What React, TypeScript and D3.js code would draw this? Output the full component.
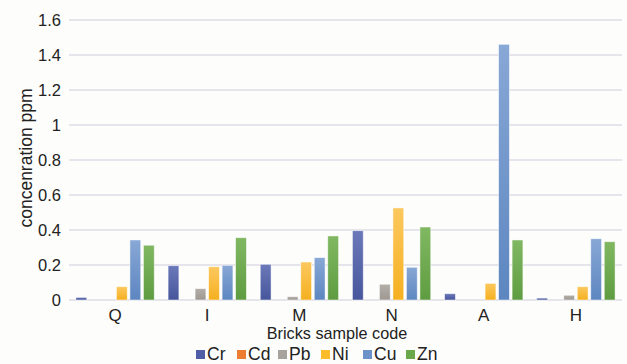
import React from "react";
import * as d3 from "d3";

const categories = ["Q", "I", "M", "N", "A", "H"];
const seriesNames = ["Cr", "Cd", "Pb", "Ni", "Cu", "Zn"];
const Cr = [0.015, 0.196, 0.204, 0.396, 0.036, 0.011];
const Cd = [0, 0, 0, 0, 0, 0];
const Pb = [0, 0.065, 0.019, 0.09, 0, 0.027];
const Ni = [0.076, 0.19, 0.217, 0.526, 0.095, 0.076];
const Cu = [0.343, 0.198, 0.242, 0.187, 1.461, 0.35];
const Zn = [0.313, 0.356, 0.366, 0.417, 0.343, 0.333];
const yTicks = [0, 0.2, 0.4, 0.6, 0.8, 1, 1.2, 1.4, 1.6];

const seriesValues = [Cr, Cd, Pb, Ni, Cu, Zn];
const colors = [
  ["#6b79b9", "#47569c"],
  ["#f28a45", "#e8722a"],
  ["#b3aea8", "#9e9891"],
  ["#fcc85e", "#f5b020"],
  ["#88a8d6", "#5d86c0"],
  ["#80b862", "#5f9c41"],
];
const legendColors = ["#4f5ea6", "#ed7d31", "#a8a29c", "#fbbc2c", "#6b93c9", "#6aa84a"];

export default function App() {
  const W = 627, H = 364;
  const left = 69, right = 622, top = 20, bottom = 300;
  const x = d3.scaleBand<string>().domain(categories).range([left, right]).paddingInner(0.121).paddingOuter(0.0605);
  const xi = d3.scaleBand<string>().domain(seriesNames).range([0, x.bandwidth()]).paddingInner(0.2).paddingOuter(0.1);
  const y = d3.scaleLinear().domain([0, 1.6]).range([bottom, top]);
  const font = "Liberation Sans, Arial, sans-serif";
  const legendX = [196, 237, 278, 321, 363, 406];

  return (
    <svg width={W} height={H} style={{ position: "absolute", left: 0, top: 0 }} fontFamily={font}>
      <defs>
        {colors.map((c, i) => (
          <linearGradient key={i} id={`g${i}`} x1="0" y1="0" x2="0" y2="1">
            <stop offset="0%" stopColor={c[0]} />
            <stop offset="100%" stopColor={c[1]} />
          </linearGradient>
        ))}
      </defs>
      <rect x={0} y={0} width={W} height={H} fill="#fdfdfb" />
      {yTicks.map((t) => (
        <g key={t}>
          <line x1={left} x2={right} y1={y(t)} y2={y(t)} stroke="#dcdde6" strokeWidth={1.5} />
          <text x={61} y={y(t)} dy="0.36em" textAnchor="end" fontSize={16.5} fill="#222">
            {d3.format("~g")(t)}
          </text>
        </g>
      ))}
      {categories.map((c, ci) => (
        <g key={c} transform={`translate(${x(c)},0)`}>
          {seriesNames.map((s, si) => {
            const v = seriesValues[si][ci];
            if (v <= 0) return null;
            return (
              <rect
                key={s}
                x={xi(s)}
                y={y(v)}
                width={xi.bandwidth()}
                height={bottom - y(v)}
                fill={`url(#g${si})`}
                stroke="#ffffff"
                strokeOpacity={0.6}
                strokeWidth={0.8}
              />
            );
          })}
          <text x={x.bandwidth() / 2} y={321} textAnchor="middle" fontSize={17} fill="#222">
            {c}
          </text>
        </g>
      ))}
      <text x={337} y={339} textAnchor="middle" fontSize={16.2} fill="#222">
        Bricks sample code
      </text>
      <text
        transform={`translate(32,158) rotate(-90)`}
        textAnchor="middle"
        fontSize={17.5}
        fill="#222"
      >
        concenration ppm
      </text>
      {seriesNames.map((s, i) => (
        <g key={s} transform={`translate(${legendX[i]},0)`}>
          <rect x={0} y={350} width={9} height={9} fill={legendColors[i]} />
          <text x={11} y={360} fontSize={17.5} fill="#222">
            {s}
          </text>
        </g>
      ))}
    </svg>
  );
}
